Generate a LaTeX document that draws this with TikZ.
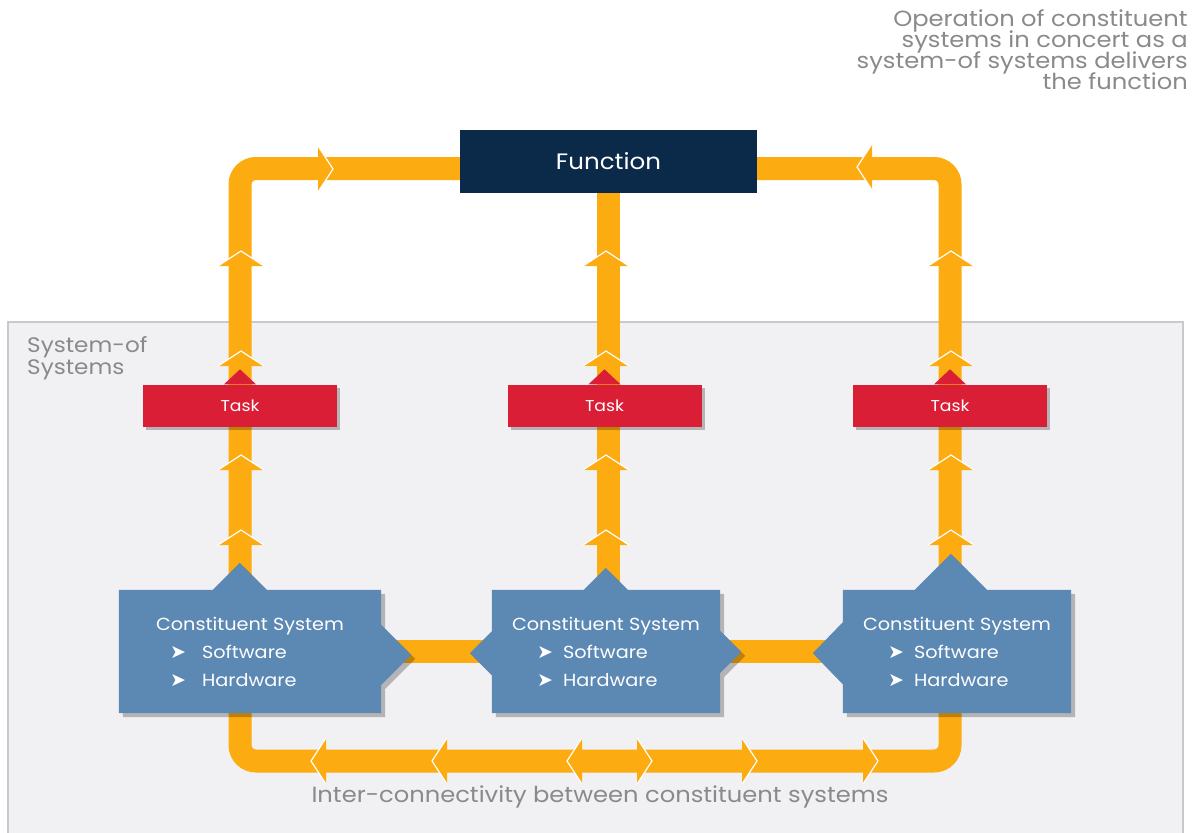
\documentclass[tikz,border=0pt]{standalone}
\usepackage{fontspec}
\setmainfont{Poppins}[FakeStretch=1.1]
\newfontfamily\symfont{DejaVu Sans}
\usetikzlibrary{shadows}
\usetikzlibrary{backgrounds}

\definecolor{pipeorange}{HTML}{FCAB10}
\definecolor{fnnavy}{HTML}{0B2949}
\definecolor{taskred}{HTML}{D91E35}
\definecolor{csblue}{HTML}{5C88B4}
\definecolor{sosgrey}{HTML}{F1F1F3}
\definecolor{sosline}{HTML}{C9C9CB}
\definecolor{labelgrey}{HTML}{8A8A8A}

% arrow head on a pipe: #1 tip, #2 direction
\newcommand{\pipehead}[2]{%
	\begin{scope}[shift={#1},rotate=#2]
		\fill[pipeorange] (0,0) -- (-15,-23) -- (-15,23) -- cycle;
		\draw[white,line width=1.2pt,line join=miter] (-15,-23) -- (0,0) -- (-15,23);
	\end{scope}}
% text of a constituent box: #1 line width, #2 bullet width
\newcommand{\csbul}{{\symfont\fontsize{19}{19}\selectfont ➤}}
\newcommand{\csbody}[2]{Constituent System\\
	\makebox[#1][l]{\makebox[#2][l]{\csbul}Software}\\
	\makebox[#1][l]{\makebox[#2][l]{\csbul}Hardware}}
\newcommand{\tightlines}{\lineskiplimit=-10pt\relax}

\tikzset{
	pipe/.style={draw=pipeorange,line width=23pt,rounded corners=16pt},
	fnbox/.style={fill=fnnavy,text=white,minimum width=297pt,minimum height=63pt,font=\fontsize{22.3}{24}\selectfont},
	taskbox/.style={fill=taskred,text=white,minimum width=194pt,minimum height=42pt,font=\fontsize{15.7}{18}\selectfont,
		drop shadow={shadow xshift=3pt,shadow yshift=-3pt,fill=black,opacity=.25}},
	cstext/.style={text=white,minimum height=123pt,inner sep=0pt,align=center,font=\fontsize{17.5}{28}\selectfont},
	cshape/.style={fill=csblue,drop shadow={shadow xshift=4pt,shadow yshift=-4pt,fill=black,opacity=.25}},
	labeltext/.style={text=labelgrey,inner sep=0pt,font=\fontsize{22}{21}\selectfont\tightlines},
}

\begin{document}
\begin{tikzpicture}[x=1pt,y=-1pt]
	\useasboundingbox (0,0) rectangle (1195,833);

	\node[fnbox] (fn) at (608.5,161.5) {Function};
	\node[taskbox] (t1) at (240,405.5) {Task};
	\node[taskbox] (t2) at (604.5,405.5) {Task};
	\node[taskbox] (t3) at (950,405.5) {Task};
	\foreach \t in {t1,t2,t3}
		\fill[taskred] (\t.north) ++(-16,0) -- ++(16,-15) -- ++(16,15) -- cycle;

	\node[cstext,minimum width=262pt] (cs1) at (250,651.5) {\csbody{160pt}{32pt}};
	\node[cstext,minimum width=228pt] (cs2) at (606,651.5) {\csbody{138pt}{26pt}};
	\node[cstext,minimum width=228pt] (cs3) at (957,651.5) {\csbody{138pt}{26pt}};

	\node[labeltext,anchor=north east,align=right] (op) at (1188,9) {Operation of constituent\\systems in concert as a\\system-of systems delivers\\the function};
	\node[labeltext,anchor=north west,align=left,font=\fontsize{21}{22}\selectfont\tightlines] (sos) at (27,336) {System-of\\Systems};
	\node[labeltext] (inter) at (600,797) {Inter-connectivity between constituent systems};

	\begin{scope}[on background layer]
		\draw[sosline,fill=sosgrey,line width=2pt] (8,322) rectangle (1183,850);
		% pipes
		\coordinate (loop) at (600,761);
		\draw[pipe] ([yshift=-7pt]fn.west) -| (t1.north |- cs1.north);
		\draw[pipe] ([yshift=-7pt]fn.east) -| (t3.north |- cs3.north);
		\draw[pipe] (fn.south) -- (fn.south |- cs2.north);
		\draw[pipe] (cs1.east) -- (cs2.west);
		\draw[pipe] (cs2.east) -- (cs3.west);
		\draw[pipe] (t1.north |- cs1.south) |- (loop) -| (t3.north |- cs3.south);
		% arrow heads
		\foreach \yy in {251,351,455,530} {
			\pipehead{(241,\yy)}{90}
			\pipehead{(606,\yy)}{90}
			\pipehead{(951,\yy)}{90}
		}
		\pipehead{(333,169)}{0}
		\pipehead{(857,167)}{180}
		\foreach \xx in {311,432,567}
			\pipehead{(\xx,761)}{180};
		\foreach \xx in {652,757,878}
			\pipehead{(\xx,761)}{0};
		% constituent system shapes
		\fill[cshape] (cs1.south west) -- (cs1.north west) -- ++(94,0) -- ++(27,-27) -- ++(27,27) -- (cs1.north east)
			-- ++(0,35) -- ++(30,30) -- ++(-30,30) -- (cs1.south east) -- cycle;
		\fill[cshape] (cs2.south west) -- ++(0,-38) -- ++(-22,-22) -- ++(22,-22) -- (cs2.north west) -- ++(92,0) -- ++(22,-22) -- ++(22,22)
			-- (cs2.north east) -- ++(0,41) -- ++(21,21) -- ++(-21,21) -- (cs2.south east) -- cycle;
		\fill[cshape] (cs3.south west) -- ++(0,-29) -- ++(-30,-31) -- ++(30,-31) -- (cs3.north west) -- ++(72,0) -- ++(36,-36) -- ++(36,36)
			-- (cs3.north east) -- (cs3.south east) -- cycle;
	\end{scope}
\end{tikzpicture}
\end{document}
